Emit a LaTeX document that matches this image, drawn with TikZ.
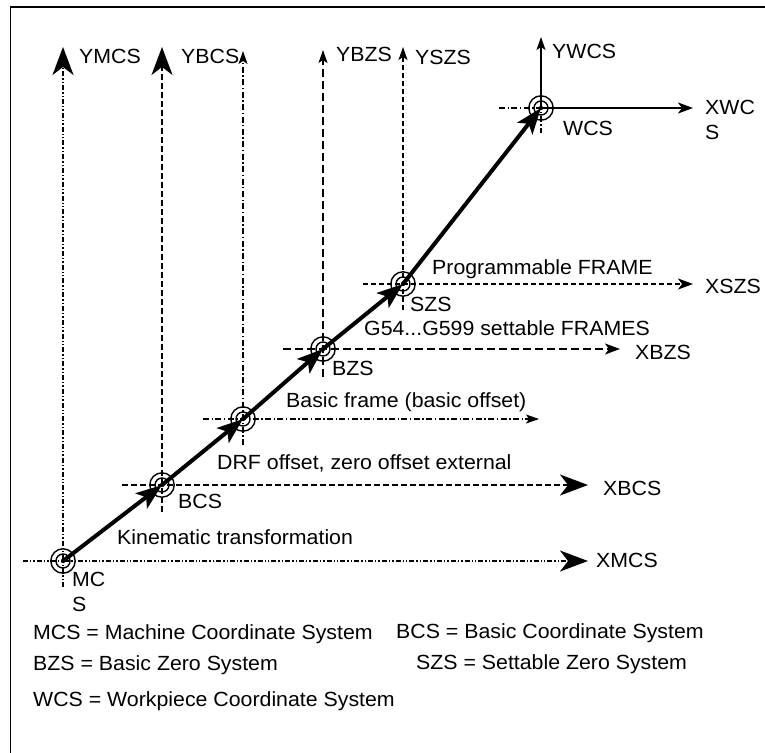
\documentclass[tikz,border=0pt]{standalone}
\usepackage{fontspec}
\setmainfont{Liberation Sans}[FakeStretch=1.04]
\usetikzlibrary{arrows.meta}
\newcommand{\rext}{12.2bp}
\newcommand{\rint}{7bp}
\tikzstyle{origine}=[circle, draw, line width=1.4bp, minimum size=2*\rext, inner sep=0pt]
\tikzstyle{texte}=[inner sep=0pt, anchor=base west]
\tikzstyle{axe}=[line width=1.6bp]
\tikzstyle{mcs}=[axe, dash pattern=on 5bp off 2bp on 1.4bp off 2bp on 1.4bp off 2bp]
\tikzstyle{bcs}=[axe, dash pattern=on 6bp off 3bp]
\tikzstyle{drf}=[axe, dash pattern=on 6bp off 2.5bp on 1.4bp off 2.5bp]
\tikzstyle{bzs}=[axe, dash pattern=on 8bp off 4bp]
\tikzstyle{szs}=[axe, dash pattern=on 5bp off 3bp]
\tikzstyle{grande}=[-{Stealth[length=28bp,width=21bp,inset=8bp]}]
\tikzstyle{moyenne}=[-{Stealth[length=15bp,width=11bp,inset=4bp]}]
\tikzstyle{petite}=[-{Stealth[length=13bp,width=9bp,inset=3bp]}]
\tikzstyle{diag}=[line width=4bp, -{Stealth[length=26bp,width=19bp,inset=6bp]}]
\newcommand{\fl}[2]{ \draw[diag] (#1.center) -- (#2.center); }
\newcommand{\repere}[3]{ \node[origine] (#1) at (#2,#3) {}; \draw[line width=1.4bp] (#1.center) circle (\rint); \fill (#1.center) circle (2.2bp); }

\begin{document}
\begin{tikzpicture}[x=1bp, y=-1bp, font=\fontsize{20.5bp}{24.5bp}\selectfont]

 \useasboundingbox (0,0) rectangle (765,753);
 \draw[line width=1.6bp] (10.5,753) -- (10.5,7) -- (765,7);

 % origines
 \repere{MCS}{63}{561}
 \repere{BCS}{162}{485}
 \repere{DRF}{243}{419}
 \repere{BZS}{323}{349}
 \repere{SZS}{403}{284}
 \repere{WCS}{541}{108}

 % debuts et pointes des axes
 \coordinate (MCSg) at (23,561);  \coordinate (MCSb) at (63,587);
 \coordinate (MCSx) at (588,561); \coordinate (MCSy) at (63,47);
 \coordinate (BCSg) at (122,485); \coordinate (BCSb) at (162,512);
 \coordinate (BCSx) at (588,485); \coordinate (BCSy) at (162,47);
 \coordinate (DRFg) at (203,419); \coordinate (DRFb) at (243,445);
 \coordinate (DRFx) at (539,419); \coordinate (DRFy) at (243,51);
 \coordinate (BZSg) at (283,349); \coordinate (BZSb) at (323,377);
 \coordinate (BZSx) at (620,349); \coordinate (BZSy) at (323,50);
 \coordinate (SZSg) at (363,284); \coordinate (SZSb) at (403,310);
 \coordinate (SZSx) at (693,284); \coordinate (SZSy) at (403,47);
 \coordinate (WCSg) at (499,108); \coordinate (WCSb) at (541,133);
 \coordinate (WCSx) at (693,108); \coordinate (WCSy) at (541,37);

 \draw[mcs,grande] (MCSg) -- (MCSx);
 \draw[mcs,grande] (MCSb) -- (MCSy);
 \draw[bcs,grande] (BCSg) -- (BCSx);
 \draw[bcs,grande] (BCSb) -- (BCSy);
 \draw[drf,petite] (DRFg) -- (DRFx);
 \draw[drf,petite] (DRFb) -- (DRFy);
 \draw[bzs,moyenne] (BZSg) -- (BZSx);
 \draw[bzs,petite] (BZSb) -- (BZSy);
 \draw[szs,moyenne] (SZSg) -- (SZSx);
 \draw[szs,petite] (SZSb) -- (SZSy);
 \draw[drf] (WCSg) -- (WCS.center) -- (WCSb);
 \draw[axe,moyenne] (WCS.center) -- (WCSx);
 \draw[axe,petite] (WCS.center) -- (WCSy);

 \fl{MCS}{BCS}
 \fl{BCS}{DRF}
 \fl{DRF}{BZS}
 \fl{BZS}{SZS}
 \fl{SZS}{WCS}

 % textes
 \node[texte] (tYMCS) at (79,64) {YMCS};
 \node[texte] (tYBCS) at (181,64) {YBCS};
 \node[texte] (tYBZS) at (336,62) {YBZS};
 \node[texte] (tYSZS) at (415,65) {YSZS};
 \node[texte] (tYWCS) at (552,59) {YWCS};
 \node[inner sep=0pt, anchor=north west, align=left] (tXWCS) at (705,100) {XWC\\S};
 \node[texte] (tWCS) at (563,135) {WCS};
 \node[texte] (tprog) at (432,274) {Programmable FRAME};
 \node[texte] (tXSZS) at (705,293) {XSZS};
 \node[texte] (tSZS) at (410,311) {SZS};
 \node[texte] (tG54) at (364,335) {G54...G599 settable FRAMES};
 \node[texte] (tXBZS) at (635,359) {XBZS};
 \node[texte] (tBZS) at (332,375) {BZS};
 \node[texte] (tbase) at (286,407) {Basic frame (basic offset)};
 \node[texte] (tDRF) at (217,469) {DRF offset, zero offset external};
 \node[texte] (tXBCS) at (603,495) {XBCS};
 \node[texte] (tBCS) at (178,508) {BCS};
 \node[texte] (tcin) at (117,544) {Kinematic transformation};
 \node[texte] (tXMCS) at (596,567) {XMCS};
 \node[inner sep=0pt, anchor=north west, align=left] (tMCS) at (72,572) {MC\\S};

 \node[texte] (L1) at (33,639) {MCS = Machine Coordinate System};
 \node[texte] (L2) at (396,638) {BCS = Basic Coordinate System};
 \node[texte] (L3) at (33,670) {BZS = Basic Zero System};
 \node[texte] (L4) at (416,669) {SZS = Settable Zero System};
 \node[texte] (L5) at (33,706) {WCS = Workpiece Coordinate System};

\end{tikzpicture}
\end{document}
